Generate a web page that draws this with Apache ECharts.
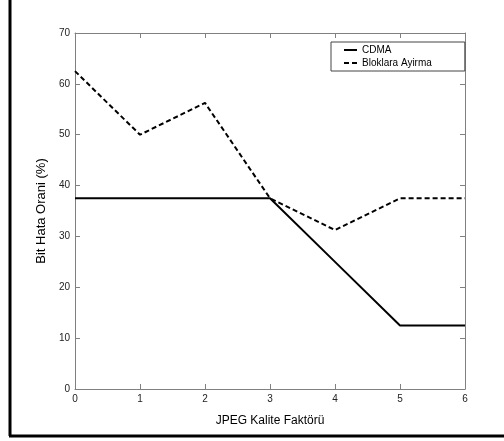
<!DOCTYPE html>
<html>
<head>
<meta charset="utf-8">
<script src="https://cdn.jsdelivr.net/npm/echarts@6/dist/echarts.min.js"></script>
<style>
html, body { margin: 0; padding: 0; background: #fff; }
#chart { width: 504px; height: 441px; }
</style>
</head>
<body>
<div id="chart"></div>
<script>
// JPEG kalite faktoru
const kalite = [0, 1, 2, 3, 4, 5, 6];
const cdma = [37.5, 37.5, 37.5, 37.5, 25, 12.5, 12.5];
const bloklara = [62.5, 50, 56.25, 37.5, 31.25, 37.5, 37.5];
const yTicks = [0, 10, 20, 30, 40, 50, 60, 70];

const font = 'Liberation Sans, Arial, sans-serif';
const axisGray = '#808080';

// ticks point into the plot like matlab
const tick = { show: true, inside: true, length: 5, lineStyle: { color: axisGray } };
const line = { show: true, onZero: false, lineStyle: { color: axisGray, width: 1 } };

const chart = echarts.init(document.getElementById('chart'));
chart.setOption({
  animation: false,
  textStyle: { fontFamily: font },
  grid: { left: 75, right: 39, top: 33, bottom: 52 },
  legend: {
    orient: 'vertical',
    left: 331,
    top: 42,
    padding: [3, 33, 3, 12],
    itemGap: 3,
    itemWidth: 13,
    itemHeight: 8,
    borderColor: '#444',
    borderWidth: 1,
    backgroundColor: '#fff',
    itemStyle: { opacity: 0 },
    textStyle: { fontSize: 10, color: '#000', fontFamily: font },
    data: ['CDMA', 'Bloklara Ayirma']
  },
  xAxis: [{
    type: 'value',
    min: 0, max: 6, interval: 1,
    name: 'JPEG Kalite Faktörü',
    nameLocation: 'middle',
    nameGap: 26,
    nameTextStyle: { fontSize: 12, color: '#000' },
    axisLine: line,
    axisTick: tick,
    axisLabel: { fontSize: 10, color: '#222', margin: 5 },
    splitLine: { show: false }
  }, {
    type: 'value',
    position: 'top',
    min: 0, max: 6, interval: 1,
    axisLine: line,
    axisTick: tick,
    axisLabel: { show: false },
    splitLine: { show: false }
  }],
  yAxis: [{
    type: 'value',
    position: 'left',
    min: 0, max: 70, interval: 10,
    name: 'Bit Hata Orani (%)',
    nameLocation: 'middle',
    nameGap: 20,
    nameTextStyle: { fontSize: 13, color: '#000' },
    axisLine: line,
    axisTick: tick,
    axisLabel: { fontSize: 10, color: '#222', margin: 5,
      formatter: v => yTicks.includes(v) ? String(v) : '' },
    splitLine: { show: false }
  }, {
    type: 'value',
    position: 'right',
    min: 0, max: 70, interval: 10,
    axisLine: line,
    axisTick: tick,
    axisLabel: { show: false },
    splitLine: { show: false }
  }],
  graphic: [
    { type: 'line', shape: { x1: 10, y1: 0, x2: 10, y2: 436 }, style: { stroke: '#000', lineWidth: 3 } },
    { type: 'line', shape: { x1: 9, y1: 436, x2: 504, y2: 436 }, style: { stroke: '#000', lineWidth: 3 } }
  ],
  series: [{
    name: 'CDMA',
    type: 'line',
    data: kalite.map((x, i) => [x, cdma[i]]),
    symbol: 'none',
    itemStyle: { color: '#000' },
    lineStyle: { color: '#000', width: 2 }
  }, {
    name: 'Bloklara Ayirma',
    type: 'line',
    data: kalite.map((x, i) => [x, bloklara[i]]),
    symbol: 'none',
    itemStyle: { color: '#000' },
    lineStyle: { color: '#000', width: 2, type: [5, 3] }
  }]
});
</script>
</body>
</html>
